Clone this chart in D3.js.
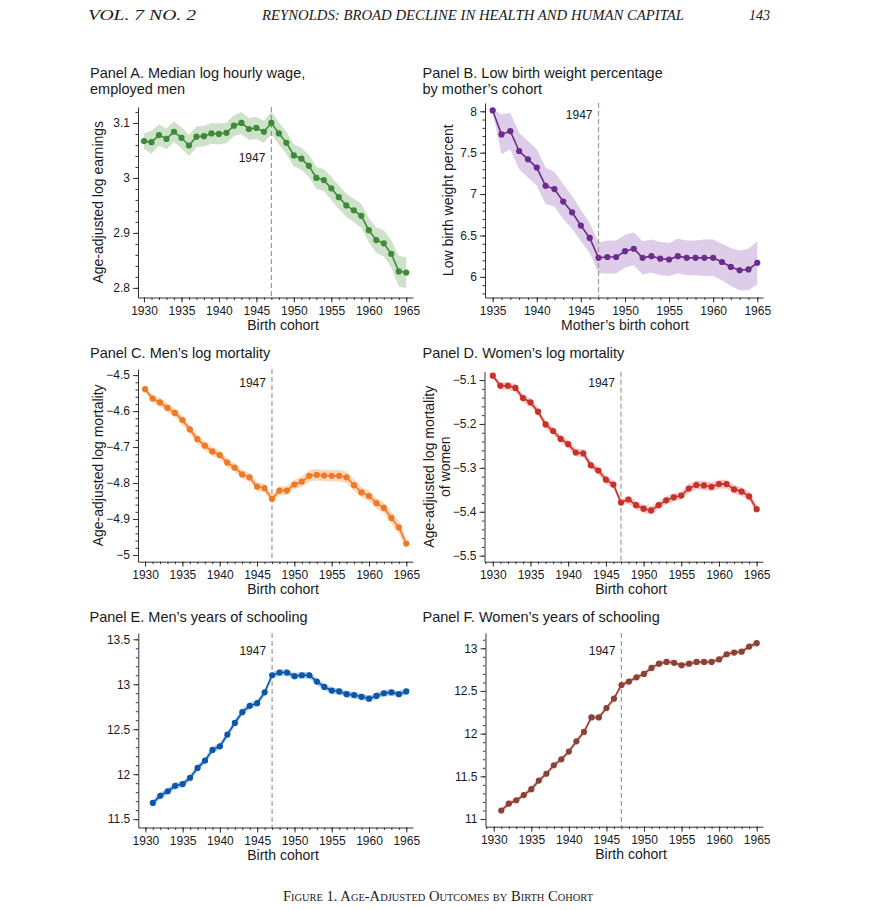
<!DOCTYPE html>
<html>
<head>
<meta charset="utf-8">
<script src="https://cdn.jsdelivr.net/npm/d3@7"></script>
<style>
body { margin:0; background:#fff; }
text { font-family:"Liberation Sans", Arial, sans-serif; fill:#1a1a1a; }
.serif { font-family:"Liberation Serif", "Times New Roman", serif; }
</style>
</head>
<body>
<div id="chart"></div>
<script>
// birth cohorts
var yearsA = d3.range(1930, 1966)
var yearsB = d3.range(1935, 1966)
var yearsE = d3.range(1931, 1966)

// Panel A: median log hourly wage, employed men
var wageMen = [3.067,3.065,3.078,3.071,3.084,3.073,3.059,3.075,3.076,3.081,3.080,3.082,3.095,3.100,3.089,3.091,3.084,3.100,
	3.081,3.064,3.041,3.035,3.022,3.000,2.996,2.981,2.965,2.950,2.941,2.931,2.905,2.887,2.881,2.862,2.830,2.828]
var wageMenSe = [0.014,0.021,0.019,0.019,0.019,0.019,0.019,0.019,0.019,0.019,0.019,0.019,0.019,0.02,0.02,0.02,0.02,0.021,
	0.02,0.02,0.02,0.02,0.02,0.02,0.02,0.021,0.021,0.021,0.021,0.022,0.022,0.023,0.024,0.025,0.028,0.028]

// Panel B: low birth weight percent, by mother's cohort
var lbw = [8.01,7.72,7.76,7.52,7.42,7.32,7.10,7.06,6.91,6.78,6.62,6.47,6.23,6.24,6.24,6.31,6.34,6.23,6.25,6.22,6.21,
	6.25,6.23,6.23,6.23,6.23,6.18,6.12,6.08,6.09,6.17]
var lbwSe = [0.02,0.24,0.22,0.22,0.22,0.22,0.22,0.21,0.21,0.2,0.19,0.18,0.185,0.2,0.2,0.2,0.2,0.2,0.2,0.2,0.2,
	0.21,0.21,0.21,0.22,0.22,0.22,0.23,0.24,0.25,0.26]

// Panel C: men's log mortality
var mortMen = [-4.539,-4.565,-4.576,-4.591,-4.605,-4.625,-4.651,-4.678,-4.696,-4.712,-4.722,-4.743,-4.757,-4.776,-4.784,-4.810,-4.814,-4.844,
	-4.821,-4.821,-4.804,-4.796,-4.780,-4.777,-4.779,-4.780,-4.780,-4.784,-4.806,-4.826,-4.836,-4.856,-4.869,-4.897,-4.923,-4.968]
var mortMenSe = [0.006,0.011,0.012,0.012,0.012,0.012,0.012,0.012,0.012,0.012,0.012,0.012,0.012,0.012,0.012,0.012,0.012,0.011,
	0.012,0.012,0.013,0.014,0.016,0.016,0.016,0.016,0.016,0.016,0.015,0.014,0.014,0.014,0.015,0.016,0.017,0.018]

// Panel D: women's log mortality
var mortWomen = [-5.090,-5.113,-5.113,-5.118,-5.141,-5.151,-5.172,-5.201,-5.216,-5.234,-5.246,-5.265,-5.267,-5.294,-5.306,-5.327,-5.338,-5.379,
	-5.372,-5.385,-5.393,-5.397,-5.385,-5.374,-5.367,-5.363,-5.347,-5.339,-5.340,-5.343,-5.337,-5.337,-5.349,-5.354,-5.365,-5.394]
var mortWomenSe = [0.004,0.008,0.009,0.009,0.009,0.009,0.009,0.009,0.009,0.009,0.009,0.009,0.009,0.009,0.009,0.009,0.009,0.008,
	0.009,0.009,0.009,0.009,0.009,0.009,0.009,0.009,0.01,0.01,0.01,0.01,0.01,0.01,0.01,0.01,0.01,0.01]

// Panel E: men's years of schooling
var schoolMen = [11.68,11.76,11.81,11.87,11.89,11.96,12.07,12.15,12.27,12.31,12.44,12.57,12.69,12.76,12.79,12.91,13.10,
	13.13,13.13,13.09,13.10,13.10,13.03,12.97,12.93,12.92,12.89,12.88,12.86,12.84,12.87,12.90,12.91,12.89,12.92]
var schoolMenSe = [0.035,0.035,0.035,0.035,0.035,0.035,0.035,0.035,0.035,0.035,0.035,0.035,0.035,0.035,0.035,0.035,0.035,
	0.035,0.035,0.035,0.035,0.035,0.035,0.035,0.035,0.035,0.035,0.035,0.035,0.035,0.035,0.035,0.035,0.035,0.035]

// Panel F: women's years of schooling
var schoolWomen = [11.10,11.18,11.22,11.28,11.35,11.45,11.53,11.63,11.70,11.79,11.91,12.02,12.19,12.19,12.30,12.41,12.57,
	12.61,12.66,12.70,12.77,12.82,12.84,12.83,12.80,12.82,12.84,12.84,12.84,12.87,12.93,12.95,12.96,13.02,13.06]
var schoolWomenSe = [0.03,0.03,0.03,0.03,0.03,0.03,0.03,0.03,0.03,0.03,0.03,0.03,0.03,0.03,0.03,0.03,0.03,
	0.03,0.03,0.03,0.03,0.03,0.03,0.03,0.03,0.03,0.03,0.03,0.03,0.03,0.03,0.03,0.03,0.03,0.03]

var ticksA = [2.8,2.9,3,3.1]
var ticksB = [6,6.5,7,7.5,8]
var ticksC = [-5,-4.9,-4.8,-4.7,-4.6,-4.5]
var ticksD = [-5.5,-5.4,-5.3,-5.2,-5.1]
var ticksE = [11.5,12,12.5,13,13.5]
var ticksF = [11,11.5,12,12.5,13]
var xTicksA = [1930,1935,1940,1945,1950,1955,1960,1965]
var xTicksB = [1935,1940,1945,1950,1955,1960,1965]

var panels = [
	{title:['Panel A. Median log hourly wage,','employed men'], ytitle:['Age-adjusted log earnings'], xtitle:'Birth cohort',
	 years:yearsA, values:wageMen, se:wageMenSe, yticks:ticksA, minor:0.02, xticks:xTicksA,
	 color:'#3f8a3a', band:'#c8dfc2', xdom:[1929.2,1965.9], ydom:[2.7825,3.129],
	 left:138, right:413, top:107, bottom:297.5, tx:90, ty:78, xtx:283, ytx:[98], lab:161.5},
	{title:['Panel B. Low birth weight percentage','by mother\u2019s cohort'], ytitle:['Low birth weight percent'], xtitle:'Mother\u2019s birth cohort',
	 years:yearsB, values:lbw, se:lbwSe, yticks:ticksB, minor:0.1, xticks:xTicksB,
	 color:'#6b2c8c', band:'#dac8e6', xdom:[1934.13,1965.65], ydom:[5.751,8.1],
	 left:485, right:763, top:103, bottom:297.5, tx:422.5, ty:78, xtx:625, ytx:[448], lab:119.3},
	{title:['Panel C. Men\u2019s log mortality'], ytitle:['Age-adjusted log mortality'], xtitle:'Birth cohort',
	 years:yearsA, values:mortMen, se:mortMenSe, yticks:ticksC, minor:0.02, xticks:xTicksA,
	 color:'#ee7a25', band:'#f9d3b6', xdom:[1929.05,1965.9], ydom:[-5.0186,-4.483],
	 left:138, right:413, top:369, bottom:561.7, tx:90, ty:358.3, xtx:283, ytx:[98], lab:386.7},
	{title:['Panel D. Women\u2019s log mortality'], ytitle:['Age-adjusted log mortality','of women'], xtitle:'Birth cohort',
	 years:yearsA, values:mortWomen, se:mortWomenSe, yticks:ticksD, minor:0.02, xticks:xTicksA,
	 color:'#c9302a', band:'#f3c3bf', xdom:[1928.9,1965.84], ydom:[-5.5137,-5.081],
	 left:484.5, right:763, top:371.7, bottom:561.7, tx:422.5, ty:358.3, xtx:631, ytx:[429,445], lab:386.7},
	{title:['Panel E. Men\u2019s years of schooling'], ytitle:[], xtitle:'Birth cohort',
	 years:yearsE, values:schoolMen, se:schoolMenSe, yticks:ticksE, minor:0.1, xticks:xTicksA,
	 color:'#0c58a6', band:'#a9c8ec', xdom:[1929.05,1965.9], ydom:[11.407,13.57],
	 left:138.3, right:413, top:633, bottom:827.5, tx:89.5, ty:621.7, xtx:283, ytx:[], lab:655},
	{title:['Panel F. Women\u2019s years of schooling'], ytitle:[], xtitle:'Birth cohort',
	 years:yearsE, values:schoolWomen, se:schoolWomenSe, yticks:ticksF, minor:0.1, xticks:xTicksA,
	 color:'#8b4236', band:'#e6cbc5', xdom:[1928.9,1965.84], ydom:[10.91,13.179],
	 left:485.5, right:763, top:633, bottom:826.7, tx:422.5, ty:621.7, xtx:631, ytx:[], lab:655}
]

var svg = d3.select('#chart').append('svg')
	.attr('width', 877)
	.attr('height', 910)

function drawHeader(){
	svg.append('text').attr('class','serif').attr('x',88).attr('y',20)
		.style('font-style','italic').style('font-size','15px')
		.attr('textLength',108).attr('lengthAdjust','spacingAndGlyphs').text('VOL. 7 NO. 2')
	svg.append('text').attr('class','serif').attr('x',262).attr('y',20)
		.style('font-style','italic').style('font-size','14px')
		.attr('textLength',422).attr('lengthAdjust','spacingAndGlyphs').text('REYNOLDS: BROAD DECLINE IN HEALTH AND HUMAN CAPITAL')
	svg.append('text').attr('class','serif').attr('x',770).attr('y',20)
		.attr('text-anchor','end')
		.style('font-style','italic').style('font-size','14px').text('143')
	svg.append('text').attr('class','serif').attr('x',283).attr('y',901)
		.style('font-variant','small-caps').style('font-size','14px')
		.attr('textLength',310).attr('lengthAdjust','spacingAndGlyphs')
		.text('Figure 1. Age-Adjusted Outcomes by Birth Cohort')
}

function drawPanel(p){
	var g = svg.append('g')
	var x = d3.scaleLinear().domain(p.xdom).range([p.left,p.right])
	var y = d3.scaleLinear().domain(p.ydom).range([p.bottom,p.top])
	var data = p.years.map((yr,i)=>({yr:yr, v:p.values[i], se:p.se[i]}))

	// title
	p.title.forEach((t,i)=>{
		g.append('text').attr('x',p.tx).attr('y',p.ty+i*16)
			.style('font-size','14.5px').text(t)
	})

	// confidence band
	var area = d3.area().x(d=>x(d.yr)).y0(d=>y(d.v-d.se)).y1(d=>y(d.v+d.se))
	g.append('path').datum(data).attr('d',area)
		.style('fill',p.band).style('opacity',0.9)

	// 1947 line
	g.append('line').attr('x1',x(1947)).attr('x2',x(1947))
		.attr('y1',p.top).attr('y2',p.bottom)
		.style('stroke','#999').style('stroke-width',1.2).style('stroke-dasharray','5,3')
	g.append('text').attr('x',x(1947)-6).attr('y',p.lab)
		.attr('text-anchor','end').style('font-size','12px').text('1947')

	// series
	var line = d3.line().x(d=>x(d.yr)).y(d=>y(d.v))
	g.append('path').datum(data).attr('d',line)
		.style('fill','none').style('stroke',p.color).style('stroke-width',1.6)
	g.selectAll('circle').data(data).enter().append('circle')
		.attr('cx',d=>x(d.yr)).attr('cy',d=>y(d.v)).attr('r',3.1)
		.style('fill',p.color)

	// axes
	var minorY = d3.range(Math.ceil(p.ydom[0]/p.minor), Math.floor(p.ydom[1]/p.minor)+1).map(k=>+(k*p.minor).toFixed(3))
	var minorX = d3.range(Math.ceil(p.xdom[0]), Math.floor(p.xdom[1])+1)
	var ay = g.append('g').attr('transform','translate('+p.left+',0)')
		.call(d3.axisLeft(y).tickValues(minorY).tickSize(2.5).tickFormat(''))
	ay.select('.domain').remove()
	var ax = g.append('g').attr('transform','translate(0,'+p.bottom+')')
		.call(d3.axisBottom(x).tickValues(minorX).tickSize(2.5).tickFormat(''))
	ax.select('.domain').remove()
	var yAxis = g.append('g').attr('transform','translate('+p.left+',0)')
		.call(d3.axisLeft(y).tickValues(p.yticks).tickSize(5).tickSizeOuter(0).tickPadding(3).tickFormat(d3.format('~g')))
	var xAxis = g.append('g').attr('transform','translate(0,'+p.bottom+')')
		.call(d3.axisBottom(x).tickValues(p.xticks).tickSize(5).tickSizeOuter(0).tickPadding(4).tickFormat(d3.format('d')))
	g.selectAll('.tick line').style('stroke','#333')
	g.selectAll('.domain').style('stroke','#333')
	yAxis.selectAll('text').style('font-size','12px').style('fill','#1a1a1a').style('font-family','"Liberation Sans", Arial, sans-serif')
	xAxis.selectAll('text').style('font-size','12px').style('fill','#1a1a1a').style('font-family','"Liberation Sans", Arial, sans-serif')

	// axis titles
	g.append('text').attr('x',p.xtx).attr('y',p.bottom+32.5)
		.attr('text-anchor','middle').style('font-size','14px').text(p.xtitle)
	p.ytitle.forEach((t,i)=>{
		var cy = (p.top+p.bottom)/2
		g.append('text').attr('transform','translate('+p.ytx[i]+','+cy+') rotate(-90)')
			.attr('text-anchor','middle').attr('dy','0.35em').style('font-size','14px').text(t)
	})
}

drawHeader()
panels.forEach(drawPanel)
</script>
</body>
</html>
